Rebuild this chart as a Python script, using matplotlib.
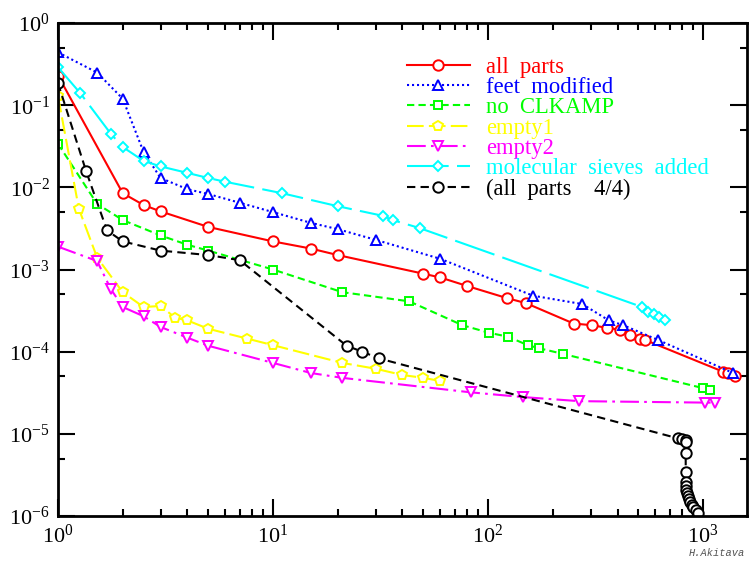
import matplotlib
matplotlib.use("Agg")
import matplotlib.pyplot as plt
from matplotlib.ticker import LogLocator, NullFormatter

plt.rcParams["font.family"] = ["Liberation Serif", "DejaVu Serif"]
plt.rcParams["mathtext.fontset"] = "stix"

# --- data (log-log) ---
all_parts_x = [1.0, 2.0, 2.5, 3.0, 5.0, 10, 15, 20, 50, 60, 80, 122, 150,
               250, 305, 357, 411, 458, 509, 537, 1240, 1307, 1409]
all_parts_y = [0.23, 0.0085, 0.0061, 0.0051, 0.0033, 0.0022, 0.0018, 0.0015,
               0.00089, 0.00080, 0.00063, 0.00045, 0.00039,
               0.00022, 0.00021, 0.000195, 0.000185, 0.00016, 0.000143, 0.000139,
               5.7e-5, 5.5e-5, 5.1e-5]

feet_x = [1.0, 1.52, 2.0, 2.5, 3.0, 4.0, 5.0, 7.0, 10, 15, 20, 30, 60,
          162, 274, 365, 425, 617, 1380]
feet_y = [0.44, 0.25, 0.12, 0.027, 0.013, 0.0095, 0.0083, 0.0065, 0.0050,
          0.0037, 0.0031, 0.0023, 0.00135, 0.00048, 0.00038, 0.00024, 0.00021,
          0.000139, 5.5e-5]

clkamp_x = [1.0, 1.52, 2.0, 3.0, 4.0, 5.0, 10, 21, 43, 76, 101, 124, 153,
            173, 223, 1000, 1075]
clkamp_y = [0.034, 0.0063, 0.0040, 0.0026, 0.0020, 0.0017, 0.0010, 0.00053,
            0.00041, 0.00021, 0.00017, 0.000152, 0.00012, 0.00011, 9.4e-5,
            3.6e-5, 3.4e-5]

empty1_x = [1.0, 1.25, 1.52, 2.0, 2.5, 3.0, 3.5, 4.0, 5.0, 7.6, 10, 21, 30,
            40, 50, 60]
empty1_y = [0.13, 0.0055, 0.0014, 0.00053, 0.00035, 0.00036, 0.00026, 0.00024,
            0.00019, 0.000144, 0.00012, 7.3e-5, 6.2e-5, 5.2e-5, 4.8e-5, 4.4e-5]

empty2_x = [1.0, 1.52, 1.76, 2.0, 2.5, 3.0, 4.0, 5.0, 10, 15, 21, 83, 146,
            265, 1021, 1137]
empty2_y = [0.0019, 0.00127, 0.00058, 0.00035, 0.00027, 0.00020, 0.000148,
            0.000118, 7.3e-5, 5.5e-5, 4.8e-5, 3.2e-5, 2.8e-5, 2.5e-5, 2.4e-5,
            2.4e-5]

sieves_x = [1.0, 1.27, 1.76, 2.0, 2.5, 3.0, 4.0, 5.0, 6.0, 11, 20, 32.5, 36,
            48, 520, 555, 592, 624, 665]
sieves_y = [0.29, 0.14, 0.045, 0.031, 0.021, 0.018, 0.015, 0.013, 0.0117,
            0.0085, 0.0059, 0.0045, 0.0040, 0.0032, 0.00035, 0.00030, 0.00029,
            0.000266, 0.000245]

quarter_x = [1.0, 1.35, 1.69, 2.0, 3.0, 5.0, 7.0, 22, 26, 31, 765, 800, 830,
             835, 830, 830, 830, 832, 835, 840, 848, 858, 869, 885, 900, 925, 950]
quarter_y = [0.186, 0.0159, 0.0030, 0.0022, 0.0017, 0.0015, 0.0013, 0.000118,
             1.0e-4, 8.3e-5, 8.8e-6, 8.6e-6, 8.3e-6, 7.9e-6, 5.9e-6, 3.4e-6,
             2.6e-6, 2.3e-6, 2.05e-6, 1.9e-6, 1.75e-6, 1.6e-6, 1.48e-6, 1.37e-6,
             1.28e-6, 1.18e-6, 1.1e-6]

x_major = [1, 10, 100, 1000]
y_major = [1e-6, 1e-5, 1e-4, 1e-3, 1e-2, 1e-1, 1]

series = [
    ("all  parts", all_parts_x, all_parts_y, "#ff0000", "o", 7.5, "-"),
    ("feet  modified", feet_x, feet_y, "#0000ff", "^", 6.5, (0, (1, 1.4))),
    ("no  CLKAMP", clkamp_x, clkamp_y, "#00ff00", "s", 5.5, (0, (3.5, 2))),
    ("empty1", empty1_x, empty1_y, "#ffff00", "p", 7.5, (0, (8, 2.5))),
    ("empty2", empty2_x, empty2_y, "#ff00ff", "v", 6.5, (0, (9, 2.5, 1.3, 2.5))),
    ("molecular  sieves  added", sieves_x, sieves_y, "#00ffff", "D", 5.5, (0, (20, 4))),
    ("(all  parts    4/4)", quarter_x, quarter_y, "#000000", "o", 7.5, (0, (4, 2.5))),
]

fig = plt.figure(figsize=(7.55, 5.63), dpi=100)
ax = fig.add_axes([0.0768, 0.0835, 0.9126, 0.8755])

for label, xs, ys, color, marker, ms, ls in series:
    ax.plot(xs, ys, color=color, linestyle=ls, linewidth=1.5, marker=marker,
            markersize=ms, markerfacecolor="white", markeredgecolor=color,
            markeredgewidth=1.4, label=label)

ax.set_xscale("log")
ax.set_yscale("log")
ax.set_xticks(x_major)
ax.set_yticks(y_major)
ax.set_xlim(1, 1600)
ax.set_ylim(1e-6, 1)

ax.xaxis.set_minor_locator(LogLocator(base=10, subs=range(2, 10), numticks=20))
ax.yaxis.set_minor_locator(LogLocator(base=10, subs=[5], numticks=20))
ax.xaxis.set_minor_formatter(NullFormatter())
ax.yaxis.set_minor_formatter(NullFormatter())

ax.tick_params(which="both", direction="in", top=True, right=True,
               labelsize=16, width=1.5, pad=6)
ax.tick_params(which="major", length=12)
ax.tick_params(which="minor", length=5)
for sp in ax.spines.values():
    sp.set_linewidth(2)

ax.legend(loc="upper left", bbox_to_anchor=(0.506, 0.932), frameon=False,
          numpoints=1, handlelength=2.8, handletextpad=0.7, labelspacing=-0.03,
          borderpad=0, borderaxespad=0, labelcolor="linecolor",
          prop={"family": "Liberation Serif", "size": 16.3})

fig.text(0.987, 0.008, "H.Akitava", ha="right", va="bottom", color="#555555",
         fontsize=7.5, family="Liberation Mono", style="italic")

fig.savefig("out.png", dpi=100)
